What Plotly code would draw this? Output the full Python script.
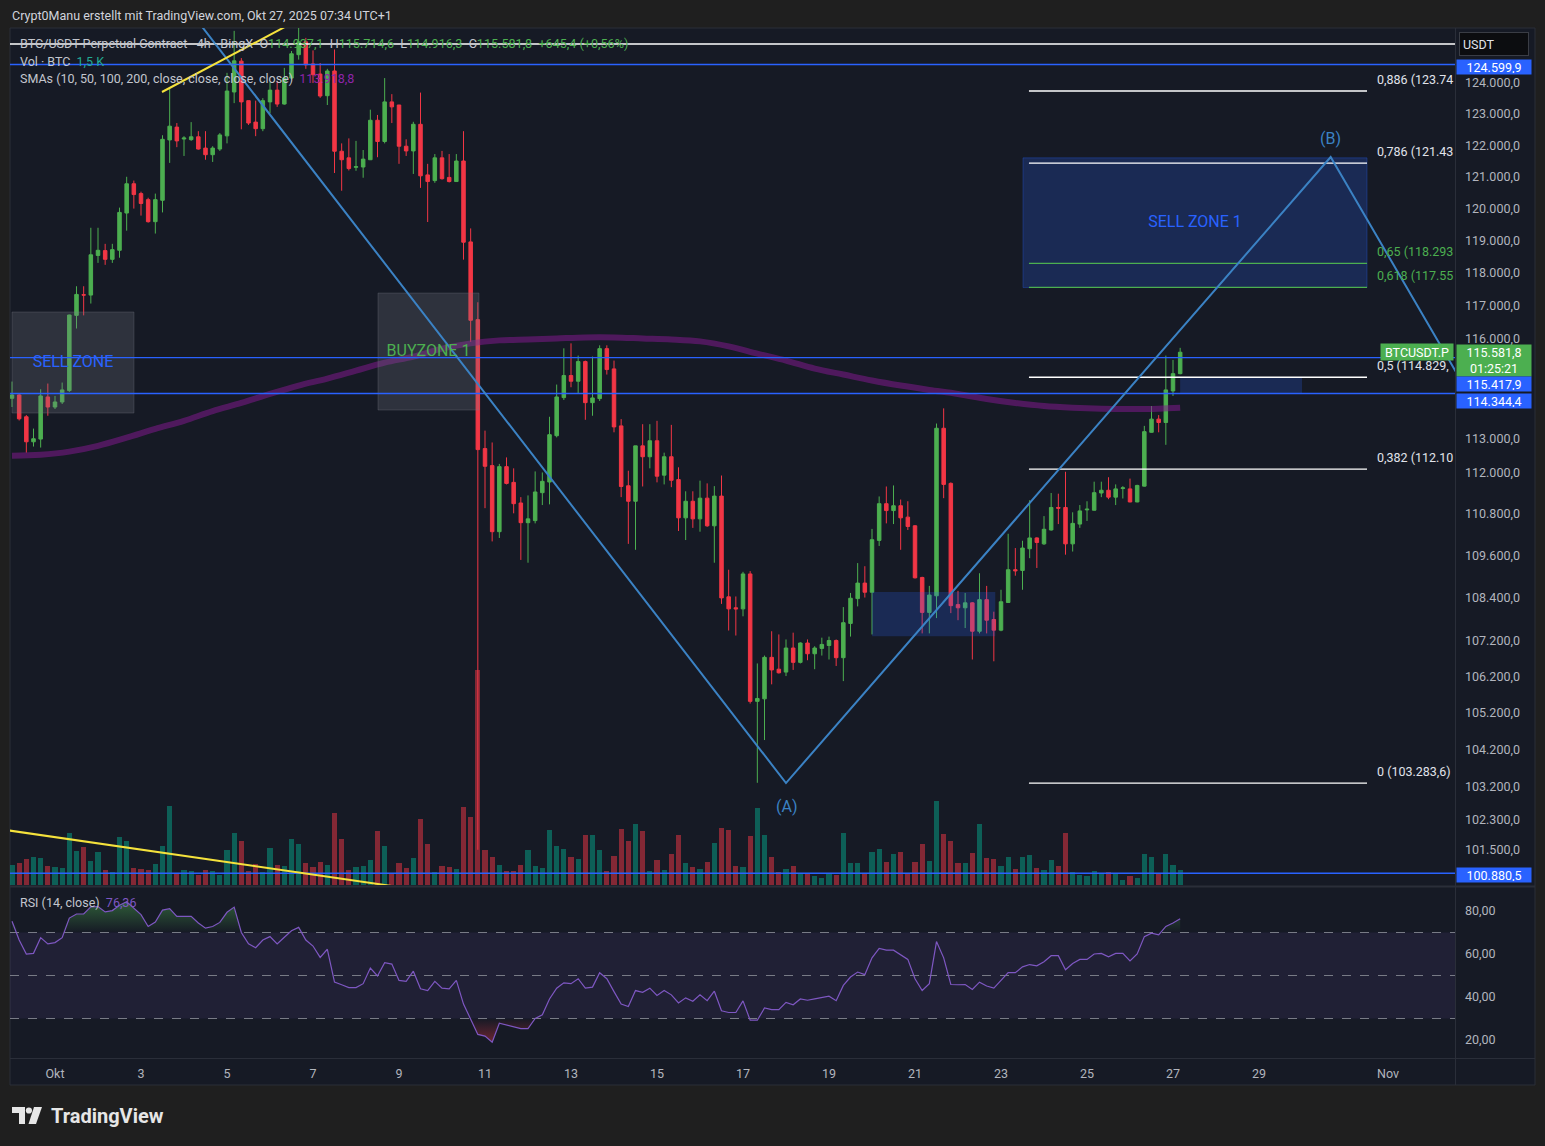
import math
import pandas as pd
import plotly.graph_objects as go

W, H = 1545, 1146
FONT = "Roboto, 'Open Sans', 'DejaVu Sans', sans-serif"

# ======================= DATA =======================
start_time = "2025-09-30 00:00"   # first 4h candle (UTC+1)
bar_hours = 4

opens = [
    114200, 114300, 113650, 112910, 112990, 114240, 113940, 114090, 114430, 116700,
    117330, 117320, 118540, 118690, 118420, 118700, 119860, 120780, 120470, 120280,
    119590, 120260, 122170, 122580, 122200, 122180, 122270, 121910, 121700, 121880,
    122300, 123710, 124710, 123430, 122740, 122530, 123390, 123770, 123320, 124160,
    124920, 125340, 124620, 124290, 123590, 124390, 121810, 121600, 121300, 121310,
    121540, 122800, 122120, 123390, 123290, 121970, 121820, 122670, 121060, 120880,
    121600, 120980, 120850, 121500, 118960, 116570, 112710, 112210, 110290, 112180,
    111720, 111120, 110550, 110610, 111420, 111730, 113090, 114220, 114880, 114710,
    115300, 114070, 114190, 115690, 115080, 113380, 111620, 111170, 112790, 112470,
    112940, 111930, 112470, 111800, 110690, 111170, 110660, 111260, 110460, 111320,
    108430, 108120, 108090, 109080, 105510, 105580, 106730, 106400, 106320, 106990,
    106590, 107130, 106830, 106980, 107060, 107200, 106720, 107680, 108380, 108820,
    108560, 110040, 111100, 110900, 111040, 110710, 110460, 108980, 107990, 108460,
    113310, 111690, 108210, 108120, 108260, 107460, 108350, 107790, 107490, 108270,
    109200, 109180, 109800, 110110, 109940, 110340, 110990, 110990, 109940, 110510,
    110920, 110910, 111410, 111490, 111290, 111540, 111530, 111150, 111610, 113190,
    113580, 113480, 114420, 114937.1]
highs = [
    114700, 114350, 113700, 113300, 114470, 114640, 114270, 114670, 116720, 117590,
    117590, 119400, 119400, 118900, 118900, 120030, 121000, 120880, 120530, 120340,
    120470, 122320, 123840, 122710, 122290, 122740, 122450, 122450, 121970, 122390,
    124330, 125700, 124810, 123430, 123430, 123510, 124030, 124060, 124490, 125040,
    126100, 125470, 125060, 124650, 124460, 125090, 122060, 122220, 122140, 121850,
    123140, 122970, 124160, 123640, 123290, 122190, 122750, 123690, 121410, 121720,
    121820, 121720, 121720, 122450, 119380, 117100, 113240, 112890, 112260, 112450,
    112130, 111290, 111340, 112040, 112010, 113650, 114610, 115700, 115850, 115480,
    115330, 115450, 115790, 115790, 115330, 113580, 112060, 112790, 113430, 113430,
    113530, 112590, 113410, 112160, 111460, 111460, 111770, 111690, 111610, 111920,
    109200, 108440, 109140, 109160, 106560, 106780, 107460, 107370, 107230, 107420,
    107150, 107230, 107040, 107280, 107310, 107230, 108140, 108540, 109390, 109300,
    110370, 111310, 111600, 111630, 111220, 111170, 110480, 109000, 108740, 113450,
    113900, 111720, 108600, 108540, 108280, 109100, 108740, 108010, 108630, 110230,
    109820, 110030, 111200, 110130, 110740, 111410, 111390, 112030, 110850, 111060,
    111170, 111740, 111740, 111870, 111660, 111610, 111830, 111650, 113380, 113970,
    113700, 115480, 115350, 115714.6]
lows = [
    113940, 113540, 112590, 112770, 112740, 113680, 113880, 114030, 114390, 116300,
    116700, 117060, 118310, 118250, 118310, 118470, 119310, 120000, 119780, 119560,
    119220, 119880, 121440, 121940, 121660, 122140, 121860, 121540, 121470, 121820,
    122060, 123350, 122510, 122650, 122290, 122450, 123030, 123230, 123300, 124110,
    124760, 124460, 124000, 123520, 123290, 121120, 120560, 121200, 121190, 120970,
    121530, 121620, 122060, 122710, 121410, 121660, 121090, 120650, 119580, 120810,
    120910, 120820, 120850, 118410, 115890, 101500, 110970, 110010, 110110, 111660,
    110820, 109480, 109400, 110530, 111060, 111080, 113040, 114150, 114530, 114350,
    113560, 113680, 114120, 114910, 113190, 111290, 109940, 109770, 111600, 112130,
    111720, 111660, 111580, 110310, 110050, 110400, 110290, 110430, 109400, 108230,
    107480, 107340, 107880, 105450, 103290, 104450, 105980, 106280, 106210, 106380,
    106560, 106650, 106400, 106780, 106670, 106490, 106070, 107310, 108160, 108410,
    107370, 109880, 110530, 110510, 109770, 110340, 108950, 107400, 107400, 107830,
    111260, 107970, 107770, 107550, 106670, 107400, 107400, 106620, 107460, 108260,
    109030, 108630, 109530, 109250, 109910, 110320, 110510, 109630, 109720, 110400,
    110600, 110900, 111290, 111230, 111060, 111250, 111140, 111140, 111600, 113180,
    113190, 112820, 114270, 114916.3]
closes = [
    114300, 113590, 112910, 113000, 114270, 113940, 114090, 114450, 116710, 117340,
    117320, 118560, 118700, 118420, 118720, 119880, 120780, 120440, 120160, 119590,
    120280, 122190, 122610, 122140, 122230, 122270, 121880, 121700, 121910, 122330,
    123740, 124720, 123390, 122710, 122530, 123430, 123770, 123320, 124160, 124950,
    125340, 124590, 124270, 123580, 124390, 121810, 121540, 121260, 121320, 121560,
    122800, 122120, 123390, 123230, 121970, 121820, 122670, 121030, 120850, 121600,
    120940, 120850, 121500, 118950, 116550, 112680, 112190, 110290, 112180, 111690,
    111100, 110550, 110660, 111440, 111750, 113120, 114240, 114880, 114710, 115300,
    114070, 114210, 115690, 115060, 113350, 111600, 111170, 112790, 112470, 112940,
    111900, 112470, 111780, 110690, 111170, 110660, 111260, 110460, 111320, 108400,
    108090, 108090, 109080, 105510, 105590, 106730, 106380, 106300, 106990, 106590,
    107130, 106830, 106990, 107090, 107200, 106720, 107700, 108390, 108820, 108560,
    110060, 111100, 110900, 111040, 110690, 110440, 108970, 107990, 108480, 113310,
    111660, 108180, 108120, 108260, 107460, 108350, 107770, 107490, 108290, 109200,
    109170, 109820, 110110, 109980, 110360, 110990, 110970, 109940, 110530, 110890,
    110940, 111420, 111490, 111290, 111530, 111560, 111150, 111630, 113210, 113580,
    113480, 114450, 114936.4, 115581.8]
volumes = [
    2000, 2200, 2600, 2800, 2700, 1900, 1800, 1700, 5200, 3400,
    3800, 2400, 3300, 1500, 1300, 4800, 4400, 1700, 1600, 1500,
    2100, 3900, 7900, 1100, 1500, 1400, 1000, 1500, 1400, 1000,
    3500, 5200, 4400, 1400, 2100, 1300, 3700, 2000, 1900, 4600,
    4100, 2200, 1800, 2300, 2000, 7200, 4600, 1500, 1800, 1900,
    2500, 5400, 3900, 1100, 2200, 1700, 2700, 6600, 4100, 1300,
    1900, 1800, 1600, 7800, 6800, 21500, 3500, 2800, 2000, 1400,
    1400, 2000, 3500, 1900, 1700, 5500, 3900, 3600, 2800, 2600,
    5000, 5000, 3500, 1400, 2900, 5600, 4400, 6100, 5400, 1400,
    2500, 1500, 3100, 5000, 2200, 1800, 1600, 2300, 4200, 5700,
    5500, 1900, 1800, 4900, 7700, 5000, 2800, 1300, 1600, 1900,
    1100, 1100, 900, 700, 1200, 1000, 5200, 2200, 2200, 1200,
    3300, 3600, 2300, 3100, 3300, 1200, 2300, 4100, 2400, 8400,
    5100, 4400, 2200, 2200, 3200, 6100, 2700, 2600, 1900, 2800,
    1600, 2800, 3000, 1700, 1500, 2500, 1900, 5200, 1300, 1000,
    900, 1400, 1200, 1300, 1100, 500, 900, 700, 3100, 2800,
    1200, 3100, 2000, 1500]
rsi14 = [
    75.2, 66.5, 60.0, 60.3, 67.6, 64.7, 65.3, 67.6, 76.7, 78.6,
    78.6, 81.9, 82.1, 79.6, 80.2, 82.7, 84.3, 81.5, 78.3, 72.8,
    74.9, 80.4, 81.1, 77.5, 77.5, 77.5, 74.4, 72.0, 72.8, 74.7,
    79.4, 81.8, 70.0, 64.7, 62.9, 66.5, 68.1, 64.7, 67.8, 70.8,
    72.4, 66.5, 63.7, 58.4, 62.2, 46.9, 45.7, 44.4, 44.4, 46.2,
    53.5, 49.8, 56.0, 55.3, 47.7, 47.3, 52.0, 43.8, 43.0, 47.3,
    44.1, 43.8, 47.7, 36.7, 29.7, 22.6, 21.8, 19.0, 27.8, 26.9,
    26.1, 25.3, 25.3, 30.0, 31.7, 39.1, 44.1, 46.6, 46.2, 48.5,
    44.1, 44.6, 51.3, 48.5, 42.5, 36.7, 35.6, 43.0, 42.2, 44.1,
    40.7, 43.0, 41.0, 37.2, 39.6, 38.0, 41.0, 38.3, 42.7, 33.6,
    32.8, 32.8, 38.2, 29.2, 29.2, 34.9, 34.1, 34.1, 37.5, 36.4,
    39.1, 38.5, 39.1, 39.7, 40.4, 38.3, 45.4, 49.3, 51.6, 50.4,
    58.2, 62.6, 61.8, 61.8, 59.5, 57.5, 48.5, 43.0, 46.2, 65.8,
    58.2, 45.8, 45.7, 45.8, 43.5, 46.9, 45.1, 44.1, 47.7, 51.3,
    51.3, 54.0, 55.1, 54.5, 56.4, 59.2, 59.2, 52.7, 55.6, 57.5,
    57.5, 60.0, 60.3, 58.7, 60.3, 60.3, 56.8, 60.0, 68.1, 69.7,
    68.9, 72.8, 74.4, 76.36]
sma200_bar = [0, 4, 8, 12, 16, 20, 24, 28, 32, 36, 40, 44, 48, 52, 56, 60, 64, 68, 72, 76, 80,
              84, 88, 92, 96, 100, 104, 108, 112, 116, 120, 124, 128, 132, 136, 140, 144, 148,
              152, 156, 160, 163]
sma200 = [112500, 112530, 112620, 112790, 113030, 113290, 113530, 113820, 114060, 114330,
          114580, 114790, 115030, 115270, 115450, 115690, 115850, 115940, 115970, 116000,
          116030, 116030, 116000, 115970, 115910, 115760, 115540, 115330, 115090, 114910,
          114730, 114580, 114450, 114330, 114180, 114060, 113970, 113920, 113890, 113880,
          113890, 113918.8]

price_ticks = [124000, 123000, 122000, 121000, 120000, 119000, 118000, 117000, 116000,
               113000, 112000, 110800, 109600, 108400, 107200, 106200, 105200, 104200,
               103200, 102300, 101500]
rsi_ticks = [80, 60, 40, 20]
time_ticks = ["2025-10-01", "2025-10-03", "2025-10-05", "2025-10-07", "2025-10-09",
              "2025-10-11", "2025-10-13", "2025-10-15", "2025-10-17", "2025-10-19",
              "2025-10-21", "2025-10-23", "2025-10-25", "2025-10-27", "2025-10-29",
              "2025-11-01"]
time_tick_text = ["Okt", "3", "5", "7", "9", "11", "13", "15", "17", "19", "21", "23",
                  "25", "27", "29", "Nov"]

hline_white = [125270.0]
hlines_blue = [124599.9, 115417.9, 114344.4, 100880.5]

fib_p0 = 103283.6
fib_p1 = 126374.6
fib_levels = [0.886, 0.786, 0.65, 0.618, 0.5, 0.382, 0.0]
fib_labels = ["0,886 (123.74", "0,786 (121.43", "0,65 (118.293", "0,618 (117.55",
              "0,5 (114.829,", "0,382 (112.10", "0 (103.283,6)"]
fib_bar_from, fib_bar_to = 141.9, 189.07

zone_labels = ["SELL ZONE", "BUYZONE 1", "SELL ZONE 1", "", ""]
zone_bar_from = [0.0, 51.07, 141.07, 120.0, 163.0]
zone_bar_to = [17.02, 65.16, 189.07, 137.2, 180.0]
zone_low = [113762, 113851, 117550, 107323, 114344.4]
zone_high = [116802, 117382, 121600, 108566, 114829]

abc_bar = [25, 108, 184, 205]
abc_price = [126300, 103283.6, 121627, 113700]

trend_up_bar = [20.93, 40]
trend_up_price = [123709, 126070]
trend_low_bar = [-5, 60]
trend_low_price = [102139, 100352]

# ======================= LAYOUT GEOMETRY / STYLE =======================
X_L, X_R, X_END = 10, 1455, 1535
MAIN_T, MAIN_B = 28, 885
RSI_T, RSI_B = 888, 1058
FRAME_B = 1085
X0_PX, BAR_PX = 12.0, 7.1667
price_range = [100570, 125794]
rsi_range = [11.63, 90.70]
vol_axis_max = 85700

BG = "#161a25"
PAGE = "#1f1f1f"
GRID = "#2a2e39"
AX = "#b2b5be"
UP = "#4caf50"
DN = "#f23645"
BLUE = "#2962ff"
ZIG = "#3b82c4"
YEL = "#f5e23c"

t0 = pd.Timestamp(start_time)


def T(i):
    return t0 + pd.Timedelta(hours=bar_hours * i)


def px(x):
    return x / W


def py(y):
    return 1 - y / H


def de(v, d=1):
    s = f"{v:,.{d}f}"
    return s.replace(",", "§").replace(".", ",").replace("§", ".")


n = len(closes)
times = [T(i) for i in range(n)]
x_range = [T((X_L - X0_PX) / BAR_PX), T((X_R - X0_PX) / BAR_PX)]

fig = go.Figure()

# volume (base axis so price is drawn on top)
vol_colors = ["rgba(8,153,129,0.55)" if c >= o else "rgba(242,54,69,0.5)"
              for o, c in zip(opens, closes)]
fig.add_trace(go.Bar(x=times, y=volumes, marker=dict(color=vol_colors, line=dict(width=0)),
                     width=[bar_hours * 3600 * 1000 * 0.72] * n, xaxis="x", yaxis="y",
                     hoverinfo="skip"))

# SMA 200
fig.add_trace(go.Scatter(x=[T(i) for i in sma200_bar], y=sma200, mode="lines",
                         line=dict(color="rgba(128,25,140,0.55)", width=6, shape="spline"),
                         xaxis="x", yaxis="y3", hoverinfo="skip"))

# zones
zone_fill = ["rgba(120,123,134,0.25)", "rgba(120,123,134,0.25)", "rgba(41,98,255,0.22)",
             "rgba(41,98,255,0.22)", "rgba(41,98,255,0.22)"]
zone_line = ["rgba(120,123,134,0.30)", "rgba(120,123,134,0.30)", "rgba(41,98,255,0.30)",
             "rgba(41,98,255,0.0)", "rgba(41,98,255,0.0)"]
for k in range(len(zone_labels)):
    a, b = zone_bar_from[k], zone_bar_to[k]
    lo, hi = zone_low[k], zone_high[k]
    fig.add_trace(go.Scatter(x=[T(a), T(b), T(b), T(a), T(a)], y=[lo, lo, hi, hi, lo],
                             mode="lines", fill="toself", fillcolor=zone_fill[k],
                             line=dict(color=zone_line[k], width=1),
                             xaxis="x", yaxis="y3", hoverinfo="skip"))

# candles
fig.add_trace(go.Candlestick(x=times, open=opens, high=highs, low=lows, close=closes,
                             increasing=dict(line=dict(color=UP, width=1), fillcolor=UP),
                             decreasing=dict(line=dict(color=DN, width=1), fillcolor=DN),
                             xaxis="x", yaxis="y3", hoverinfo="skip"))

# horizontal lines
for p in hline_white:
    fig.add_trace(go.Scatter(x=[T(-10), T(220)], y=[p, p], mode="lines",
                             line=dict(color="#ffffff", width=1.3), xaxis="x", yaxis="y3",
                             hoverinfo="skip"))
for p in hlines_blue:
    fig.add_trace(go.Scatter(x=[T(-10), T(220)], y=[p, p], mode="lines",
                             line=dict(color=BLUE, width=1.4), xaxis="x", yaxis="y3",
                             hoverinfo="skip"))

# fib retracement
fib_prices = [fib_p0 + lv * (fib_p1 - fib_p0) for lv in fib_levels]
fib_green = [lv in (0.65, 0.618) for lv in fib_levels]
for p, g in zip(fib_prices, fib_green):
    fig.add_trace(go.Scatter(x=[T(fib_bar_from), T(fib_bar_to)], y=[p, p], mode="lines",
                             line=dict(color=UP if g else "#ffffff", width=1.3),
                             xaxis="x", yaxis="y3", hoverinfo="skip"))

# ABC zigzag
fig.add_trace(go.Scatter(x=[T(i) for i in abc_bar], y=abc_price, mode="lines",
                         line=dict(color=ZIG, width=2), xaxis="x", yaxis="y3",
                         hoverinfo="skip"))
# yellow trend lines
fig.add_trace(go.Scatter(x=[T(i) for i in trend_up_bar], y=trend_up_price, mode="lines",
                         line=dict(color=YEL, width=2), xaxis="x", yaxis="y3",
                         hoverinfo="skip"))
fig.add_trace(go.Scatter(x=[T(i) for i in trend_low_bar], y=trend_low_price, mode="lines",
                         line=dict(color=YEL, width=2), xaxis="x", yaxis="y3",
                         hoverinfo="skip"))

# zone texts
zone_text_color = [BLUE, UP, BLUE, BLUE, BLUE]
for k, lab in enumerate(zone_labels):
    if not lab:
        continue
    xm = T((zone_bar_from[k] + zone_bar_to[k]) / 2)
    ym = math.sqrt(zone_low[k] * zone_high[k])
    fig.add_trace(go.Scatter(x=[xm], y=[ym], mode="text", text=[lab],
                             textposition="middle center",
                             textfont=dict(size=16, color=zone_text_color[k], family=FONT),
                             xaxis="x", yaxis="y3", hoverinfo="skip"))

# ---------------- RSI pane ----------------
ob = [max(v, 70) for v in rsi14]
os_ = [min(v, 30) for v in rsi14]
fig.add_trace(go.Scatter(x=times, y=[70] * n, mode="lines", line=dict(width=0),
                         xaxis="x2", yaxis="y2", hoverinfo="skip"))
fig.add_trace(go.Scatter(x=times, y=ob, mode="lines", line=dict(width=0), fill="tonexty",
                         fillgradient=dict(type="vertical", start=70, stop=86,
                                           colorscale=[[0, "rgba(76,175,80,0.0)"],
                                                       [1, "rgba(76,175,80,0.5)"]]),
                         xaxis="x2", yaxis="y2", hoverinfo="skip"))
fig.add_trace(go.Scatter(x=times, y=[30] * n, mode="lines", line=dict(width=0),
                         xaxis="x2", yaxis="y2", hoverinfo="skip"))
fig.add_trace(go.Scatter(x=times, y=os_, mode="lines", line=dict(width=0), fill="tonexty",
                         fillgradient=dict(type="vertical", start=16, stop=30,
                                           colorscale=[[0, "rgba(242,54,69,0.5)"],
                                                       [1, "rgba(242,54,69,0.0)"]]),
                         xaxis="x2", yaxis="y2", hoverinfo="skip"))
fig.add_trace(go.Scatter(x=times, y=rsi14, mode="lines", line=dict(color="#7e57c2", width=1.2),
                         xaxis="x2", yaxis="y2", hoverinfo="skip"))

# ---------------- shapes ----------------
shapes = [
    dict(type="rect", xref="paper", yref="paper", x0=px(X_L), x1=px(X_END), y0=py(FRAME_B),
         y1=py(MAIN_T), fillcolor=BG, line=dict(color=GRID, width=1), layer="below"),
    dict(type="line", xref="paper", yref="paper", x0=px(X_R + 0.5), x1=px(X_R + 0.5),
         y0=py(FRAME_B), y1=py(MAIN_T), line=dict(color=GRID, width=1), layer="below"),
    dict(type="line", xref="paper", yref="paper", x0=px(X_L), x1=px(X_END),
         y0=py(886.5), y1=py(886.5), line=dict(color=GRID, width=2), layer="below"),
    dict(type="line", xref="paper", yref="paper", x0=px(X_L), x1=px(X_END),
         y0=py(RSI_B + 0.5), y1=py(RSI_B + 0.5), line=dict(color=GRID, width=1), layer="below"),
    dict(type="rect", xref="x2 domain", yref="y2", x0=0, x1=1, y0=30, y1=70,
         fillcolor="rgba(126,87,194,0.10)", line=dict(width=0), layer="below"),
]
for lv in (70, 50, 30):
    shapes.append(dict(type="line", xref="x2 domain", yref="y2", x0=0, x1=1, y0=lv, y1=lv,
                       line=dict(color="#787b86", width=1, dash="dash"), layer="below"))


def poly(pts):
    s = "M " + " L ".join(f"{px(a):.5f},{py(b):.5f}" for a, b in pts) + " Z"
    return s


shapes.append(dict(type="path", xref="paper", yref="paper",
                   path=poly([(12, 1107), (25, 1107), (25, 1124), (19, 1124), (19, 1113), (12, 1113)]),
                   fillcolor="#e6e6e6", line=dict(width=0)))
shapes.append(dict(type="circle", xref="paper", yref="paper", x0=px(25.8), x1=px(32.0),
                   y0=py(1113.6), y1=py(1107.4), fillcolor="#e6e6e6", line=dict(width=0)))
shapes.append(dict(type="path", xref="paper", yref="paper",
                   path=poly([(34, 1107), (42, 1107), (36, 1124), (28.5, 1124)]),
                   fillcolor="#e6e6e6", line=dict(width=0)))

# ---------------- annotations ----------------
ann = []


def ptext(x, y, text, size=12.5, color=AX, xanchor="left", **kw):
    ann.append(dict(x=px(x), y=py(y), xref="paper", yref="paper", text=text, showarrow=False,
                    font=dict(size=size, color=color, family=FONT), xanchor=xanchor,
                    yanchor="middle", **kw))


def g(s, c=UP):
    return f"<span style='color:{c}'>{s}</span>"


chg = closes[-1] - closes[-2]
pct = chg / closes[-2] * 100
ptext(10, 16, "Crypt0Manu erstellt mit TradingView.com, Okt 27, 2025 07:34 UTC+1",
      size=12.5, color="#d1d4dc")
ptext(18, 44, "BTC/USDT Perpetual Contract · 4h · BingX  O" + g(de(opens[-1])) +
      "  H" + g(de(highs[-1])) + "  L" + g(de(lows[-1])) + "  C" + g(de(closes[-1])) +
      "  " + g(("+" if chg >= 0 else "") + de(chg) + " (+" + de(pct, 2) + "%)"),
      size=12.6, color="#c3c6ce")
ptext(18, 61, "Vol · BTC  " + g(de(volumes[-1] / 1000) + " K", "#22ab94"), color="#c3c6ce")
ptext(18, 78, "SMAs (10, 50, 100, 200, close, close, close, close)  " +
      g(de(sma200[-1]), "#8e24aa"), color="#c3c6ce")
ptext(18, 902, "RSI (14, close)  " + g(de(rsi14[-1], 2), "#7e57c2"), color="#c3c6ce")
ptext(49, 1116, "<b>TradingView</b>", size=20, color="#e6e6e6")

# fib labels
for p, lab, gr in zip(fib_prices, fib_labels, fib_green):
    ann.append(dict(x=T(fib_bar_to + 1.1), y=math.log10(p), xref="x", yref="y3", text=lab,
                    showarrow=False, xanchor="left", yanchor="middle", yshift=11.5,
                    font=dict(size=12.5, color=UP if gr else "#e0e3eb", family=FONT)))
# ABC labels
ann.append(dict(x=T(abc_bar[1]), y=math.log10(abc_price[1]), xref="x", yref="y3", text="(A)",
                showarrow=False, yshift=-23, font=dict(size=16, color=ZIG, family=FONT)))
ann.append(dict(x=T(abc_bar[2]), y=math.log10(abc_price[2]), xref="x", yref="y3", text="(B)",
                showarrow=False, yshift=19, font=dict(size=16, color=ZIG, family=FONT)))


# price-axis labels
def axlabel(price, text, bg, yshift=0, height=12, yanchor="middle"):
    ann.append(dict(x=px(X_R + 1), y=math.log10(price), xref="paper", yref="y3", text=text,
                    showarrow=False, xanchor="left", yanchor=yanchor, yshift=yshift,
                    bgcolor=bg, borderpad=1, width=72, height=height, align="center",
                    font=dict(size=12.5, color="#ffffff", family=FONT)))


axlabel(hlines_blue[0], de(hlines_blue[0]), BLUE, yshift=-2)
axlabel(closes[-1], de(closes[-1]) + "<br>01:25:21", UP, yshift=8, height=29, yanchor="top")
axlabel(hlines_blue[1], de(hlines_blue[1]), BLUE, yshift=-26.5)
axlabel(hlines_blue[2], de(hlines_blue[2]), BLUE, yshift=-7.5)
axlabel(hlines_blue[3], de(hlines_blue[3]), BLUE, yshift=-2)
ann.append(dict(x=px(X_R - 1), y=math.log10(closes[-1]), xref="paper", yref="y3",
                text="BTCUSDT.P", showarrow=False, xanchor="right", yanchor="middle",
                bgcolor=UP, borderpad=2, width=68, height=12, align="center",
                font=dict(size=12.5, color="#ffffff", family=FONT)))
ann.append(dict(x=px(1459), y=py(44), xref="paper", yref="paper", text="USDT",
                showarrow=False, xanchor="left", yanchor="middle", bgcolor="#0c0d10",
                bordercolor="#3a3d45", borderwidth=1, borderpad=3, width=62, height=16,
                align="left", font=dict(size=12.5, color="#e0e3eb", family=FONT)))

tickfont = dict(size=12.5, color=AX, family=FONT)
fig.update_layout(
    template="none",
    width=W, height=H, autosize=False, margin=dict(l=0, r=0, t=0, b=0, pad=0),
    paper_bgcolor=PAGE, plot_bgcolor="rgba(0,0,0,0)",
    font=dict(family=FONT, color=AX),
    showlegend=False, hovermode=False, bargap=0,
    xaxis=dict(domain=[px(X_L), px(X_R)], anchor="y", type="date", range=x_range,
               showticklabels=False, showgrid=False, zeroline=False, showline=False,
               ticks="", rangeslider=dict(visible=False), automargin=False),
    yaxis=dict(domain=[py(MAIN_B), py(MAIN_T)], anchor="x", range=[0, vol_axis_max],
               visible=False, showgrid=False, zeroline=False, automargin=False),
    yaxis3=dict(domain=[py(MAIN_B), py(MAIN_T)], overlaying="y", anchor="x", side="right",
                type="log", range=[math.log10(price_range[0]), math.log10(price_range[1])],
                tickvals=price_ticks, ticktext=[de(p) for p in price_ticks],
                showgrid=False, zeroline=False, showline=False, ticks="",
                tickfont=tickfont, ticklabelstandoff=9, automargin=False),
    xaxis2=dict(domain=[px(X_L), px(X_R)], anchor="y2", type="date", range=x_range,
                tickvals=time_ticks, ticktext=time_tick_text, showgrid=False,
                zeroline=False, showline=False, ticks="", tickfont=tickfont,
                ticklabelstandoff=6, automargin=False),
    yaxis2=dict(domain=[py(RSI_B), py(RSI_T)], anchor="x2", range=rsi_range, side="right",
                tickvals=rsi_ticks, ticktext=[de(v, 2) for v in rsi_ticks], showgrid=False,
                zeroline=False, showline=False, ticks="", tickfont=tickfont,
                ticklabelstandoff=9, automargin=False),
    shapes=shapes,
    annotations=ann,
)

fig.write_html("out.html", include_plotlyjs=True, full_html=True,
               config={"displayModeBar": False, "staticPlot": True},
               post_script="document.body.style.margin='0px';"
                           "document.body.style.overflow='hidden';"
                           "document.body.style.background='#1f1f1f';")
